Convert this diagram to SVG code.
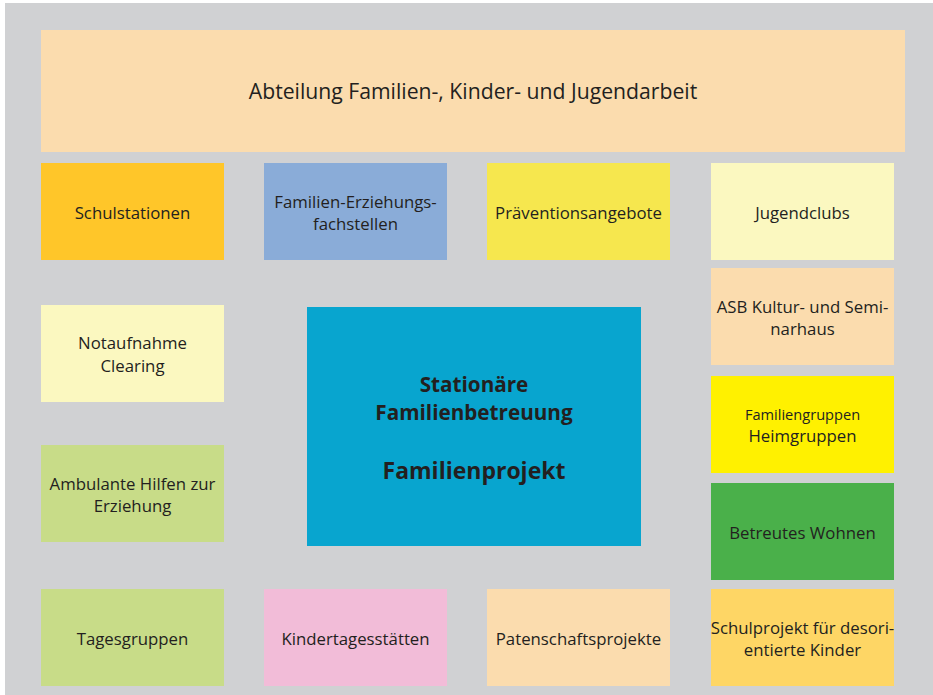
<svg xmlns="http://www.w3.org/2000/svg" width="933" height="695" viewBox="0 0 933 695">
  <style>
    text { font-family: "Open Sans", "Noto Sans", sans-serif; fill: #231f20; text-anchor: middle; }
    .t { font-size: 16.8px; }
    .big { font-size: 21.2px; }
    .bold { font-weight: bold; font-size: 20.7px; }
    .bold2 { font-weight: bold; font-size: 23px; }
    .sm { font-size: 14.6px; }
  </style>
  <rect x="0" y="0" width="933" height="695" fill="#ffffff"/>
  <rect x="5" y="3" width="928" height="692" fill="#d0d1d3"/>

  <g id="abteilung">
    <rect x="41" y="30" width="864" height="122" fill="#fbdcae"/>
    <text class="big" x="473" y="99">Abteilung Familien-, Kinder- und Jugendarbeit</text>
  </g>

  <g id="schulstationen">
    <rect x="41" y="163" width="183" height="97" fill="#ffc629"/>
    <text class="t" x="132.5" y="219">Schulstationen</text>
  </g>
  <g id="familien-erziehung">
    <rect x="264" y="163" width="183" height="97" fill="#8aacd8"/>
    <text class="t" x="355.5" y="208">Familien-Erziehungs-</text>
    <text class="t" x="355.5" y="230">fachstellen</text>
  </g>
  <g id="praevention">
    <rect x="487" y="163" width="183" height="97" fill="#f6e74e"/>
    <text class="t" x="578.5" y="219">Präventionsangebote</text>
  </g>
  <g id="jugendclubs">
    <rect x="711" y="163" width="183" height="97" fill="#fbf8c0"/>
    <text class="t" x="802.5" y="219">Jugendclubs</text>
  </g>

  <g id="asb">
    <rect x="711" y="268" width="183" height="97" fill="#fbdcae"/>
    <text class="t" x="802.5" y="313">ASB Kultur- und Semi-</text>
    <text class="t" x="802.5" y="335">narhaus</text>
  </g>
  <g id="familiengruppen">
    <rect x="711" y="376" width="183" height="97" fill="#fff100"/>
    <text class="sm" x="802.5" y="420">Familiengruppen</text>
    <text class="t" x="802.5" y="442">Heimgruppen</text>
  </g>
  <g id="betreutes-wohnen">
    <rect x="711" y="483" width="183" height="97" fill="#4ab04a"/>
    <text class="t" x="802.5" y="539">Betreutes Wohnen</text>
  </g>
  <g id="schulprojekt">
    <rect x="711" y="589" width="183" height="97" fill="#fed665"/>
    <text class="t" x="802.5" y="634">Schulprojekt für desori-</text>
    <text class="t" x="802.5" y="656">entierte Kinder</text>
  </g>

  <g id="notaufnahme">
    <rect x="41" y="305" width="183" height="97" fill="#fbf8c0"/>
    <text class="t" x="132.5" y="349">Notaufnahme</text>
    <text class="t" x="132.5" y="372">Clearing</text>
  </g>
  <g id="ambulante-hilfen">
    <rect x="41" y="445" width="183" height="97" fill="#c8dc88"/>
    <text class="t" x="132.5" y="490">Ambulante Hilfen zur</text>
    <text class="t" x="132.5" y="512">Erziehung</text>
  </g>
  <g id="tagesgruppen">
    <rect x="41" y="589" width="183" height="97" fill="#c8dc88"/>
    <text class="t" x="132.5" y="645">Tagesgruppen</text>
  </g>
  <g id="kindertagesstaetten">
    <rect x="264" y="589" width="183" height="97" fill="#f2bcd8"/>
    <text class="t" x="355.5" y="645">Kindertagesstätten</text>
  </g>
  <g id="patenschaft">
    <rect x="487" y="589" width="183" height="97" fill="#fbdcae"/>
    <text class="t" x="578.5" y="645">Patenschaftsprojekte</text>
  </g>

  <g id="familienprojekt">
    <rect x="307" y="307" width="334" height="239" fill="#08a5cf"/>
    <text class="bold" x="474" y="392">Stationäre</text>
    <text class="bold" x="474" y="420">Familienbetreuung</text>
    <text class="bold2" x="474" y="479">Familienprojekt</text>
  </g>

  <g id="connectors"/>
</svg>
